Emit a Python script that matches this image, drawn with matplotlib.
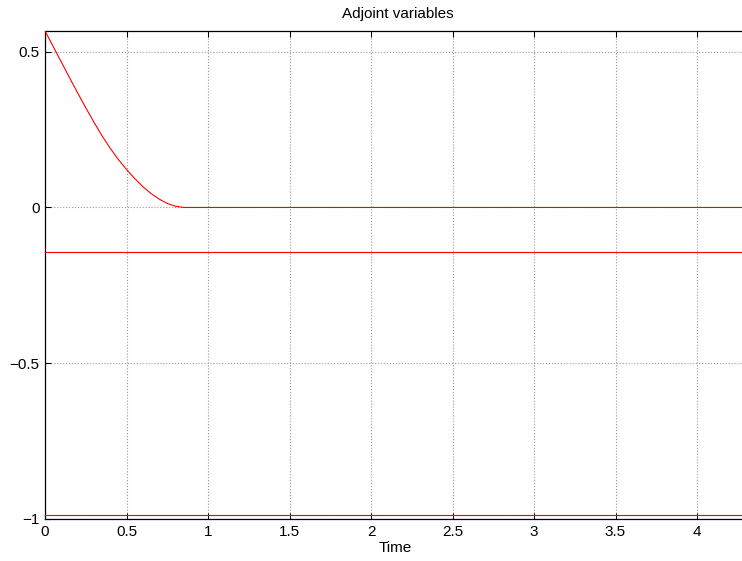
import numpy as np
import matplotlib
matplotlib.use('Agg')
import matplotlib.pyplot as plt

# adjoint variable that decays to zero
t_decay = [0.0, 0.05, 0.10, 0.15, 0.20, 0.25, 0.30, 0.35, 0.40, 0.45, 0.50,
           0.55, 0.60, 0.65, 0.70, 0.75, 0.80, 0.85, 4.28]
lam_decay = [0.567, 0.517, 0.467, 0.417, 0.368, 0.320, 0.274, 0.230, 0.190, 0.154, 0.122,
             0.093, 0.067, 0.045, 0.027, 0.013, 0.004, 0.0, 0.0]

# constant adjoint variables
t_const = [0.0, 4.28]
lam_mid = [-0.143, -0.143]
lam_low = [-0.987, -0.987]

x_ticks = [0, 0.5, 1, 1.5, 2, 2.5, 3, 3.5, 4]
x_labels = ['0', '0.5', '1', '1.5', '2', '2.5', '3', '3.5', '4']
y_ticks = [-1, -0.5, 0, 0.5]
y_labels = ['\u22121', '\u22120.5', '0', '0.5']

plt.rcParams['font.family'] = ['Liberation Sans', 'DejaVu Sans']

W, H = 742, 561
fig = plt.figure(figsize=(W / 100, H / 100), dpi=100)
left, right, top, bottom = 45, 742, 30.5, 519
ax = fig.add_axes([left / W, 1 - bottom / H, (right - left) / W, (bottom - top) / H])
ax.set_axisbelow(True)

for yy in (lam_decay,):
    ax.plot(t_decay, yy, color='red', lw=0.8, zorder=3)
ax.plot(t_const, lam_mid, color='red', lw=0.8, zorder=3)
ax.plot(t_const, lam_low, color='red', lw=0.8, zorder=3)

ax.set_xlim(0, 4.276)
ax.set_ylim(-1, 0.568)
ax.set_xticks(x_ticks)
ax.set_xticklabels(x_labels)
ax.set_yticks(y_ticks)
ax.set_yticklabels(y_labels)

ax.grid(True, linestyle=':', color='0.6', lw=0.8)
ax.tick_params(direction='in', length=4.3, width=0.75, top=True, right=False,
               labelsize=11, pad=4)
for side in ['left', 'bottom', 'top']:
    ax.spines[side].set_linewidth(0.9)
ax.spines['right'].set_visible(False)

fig.text(398 / W, 1 - 14 / H, 'Adjoint variables', ha='center', va='center', fontsize=11)
fig.text(395 / W, 1 - 548 / H, 'Time', ha='center', va='center', fontsize=11)

fig.savefig('out.png', dpi=100)
